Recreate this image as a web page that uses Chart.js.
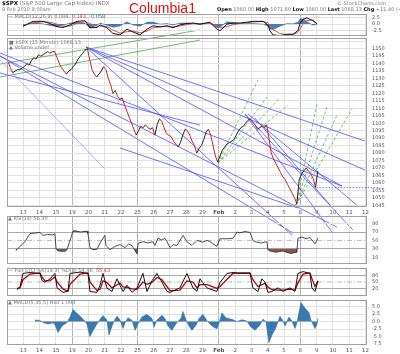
<!DOCTYPE html>
<html>
<head>
<meta charset="utf-8">
<script src="https://cdn.jsdelivr.net/npm/chart.js@4.4.0/dist/chart.umd.min.js"></script>
<style>
  body { margin: 0; background: #fff; width: 400px; height: 354px; overflow: hidden; position: relative; font-family: "DejaVu Sans", sans-serif; }
  canvas { position: absolute; left: 0; }
  #main { z-index: 1; }
  .pan { z-index: 2; }
  .t { position: absolute; font-size: 5px; color: #777; white-space: nowrap; z-index: 5; line-height: 1; }
  .t b { color: #111; }
</style>
</head>
<body>
<canvas id="main"></canvas>
<canvas id="macdTop" class="pan"></canvas>
<canvas id="rsi" class="pan"></canvas>
<canvas id="sto" class="pan"></canvas>
<canvas id="hist" class="pan"></canvas>

<div class="t" style="left:2px;top:1px;font-size:5.5px"><b>$SPX</b> (S&amp;P 500 Large Cap Index) INDX</div>
<div class="t" style="left:2px;top:7px">9 Feb 2010 9:00am</div>
<div class="t" style="left:8px;top:13.5px">&#8212; MACD(12,26,9) 0.084, <span style="color:#d33">0.143</span>, <span style="color:#36a">-0.058</span></div>
<div class="t" style="left:129px;top:1px;font-size:14px;color:#e01010;font-family:'Liberation Sans',sans-serif">Columbia1</div>
<div class="t" style="left:337px;top:1px">&#169; StockCharts.com</div>
<div class="t" style="left:217px;top:7px"><b>Open</b> 1060.00 <b>High</b> 1071.80 <b>Low</b> 1060.00 <b>Last</b> 1068.13 <b>Chg</b> +11.40 (+1.08%) &#9650;</div>
<div class="t" style="left:9px;top:40px">&#9632; $SPX (15 Minute) 1068.13</div>
<div class="t" style="left:9px;top:45px">&#9650; Volume undef</div>
<div class="t" style="left:8px;top:216px">&#9650; RSI(14) 56.30</div>
<div class="t" style="left:8px;top:268px">&#8212; Full STO %K(14,3) %D(3) 54.46, <span style="color:#d33">55.43</span></div>
<div class="t" style="left:8px;top:300px">&#9650; MACD(5,35,5) Hist 1.093</div>

<script>
// trading days: index 0 = Jan 12 ... 22 = Feb 12
const dayLabels = ['', '13', '14', '15', '19', '20', '21', '22', '25', '26', '27', '28', '29',
                   'Feb', '2', '3', '4', '5', '8', '9', '10', '11', '12'];
const weekStarts = [4, 8, 13, 18];
const barsPerDay = 7;

// price, one value per bar (7 bars per day, last day has one bar)
const price = [
  1141, 1137, 1134, 1135, 1136, 1136, 1137,
  1138, 1140, 1139, 1142, 1144, 1143, 1146,
  1145, 1146, 1147, 1148, 1147, 1148, 1148,
  1144, 1140, 1137, 1135, 1133, 1135, 1136,
  1138, 1140, 1143, 1145, 1147, 1149, 1150,
  1143, 1136, 1133, 1131, 1133, 1135, 1138,
  1136, 1130, 1126, 1120, 1122, 1118, 1116,
  1117, 1112, 1108, 1104, 1100, 1096, 1092,
  1095, 1098, 1097, 1099, 1097, 1096, 1097,
  1092, 1099, 1103, 1101, 1097, 1093, 1092,
  1091, 1088, 1086, 1084, 1087, 1092, 1096,
  1095, 1092, 1088, 1085, 1080, 1083, 1085,
  1089, 1094, 1096, 1092, 1085, 1078, 1074,
  1078, 1082, 1084, 1086, 1087, 1088, 1089,
  1092, 1095, 1097, 1098, 1100, 1102, 1103,
  1101, 1099, 1096, 1097, 1098, 1097, 1099,
  1090, 1080, 1076, 1073, 1070, 1067, 1064,
  1062, 1059, 1056, 1053, 1050, 1046, 1062,
  1066, 1068, 1070, 1068, 1066, 1063, 1057,
  1068
];
const prevClose = 1056.74;

// MACD(12,26,9), top panel
const macdT = [0.98, 1.60, 2.21, 2.64, 3.07, 3.44, 3.87, 4.29, 4.79, 5.09, 5.52, 5.71, 6.13, 6.50, 6.93, 7.36,
  7.73, 8.16, 8.59, 8.96, 9.39, 9.82, 10.18, 10.61, 11.04, 11.41, 11.84, 12.45, 12.88, 13.07, 13.50, 13.87,
  14.29, 14.72, 15.09, 15.71, 16.01, 16.13, 16.32, 16.75, 17.18, 17.55, 17.85, 17.98, 18.16, 18.40, 18.77, 19.02];
const macdV = [-0.84, 1.03, 1.03, 0.22, -0.94, -1.25, -0.31, 1.03, 1.25, -1.34, -1.25, -0.31, -1.34, -3.44, -3.97, -1.88,
  -2.9, -3.97, -1.88, -0.63, -1.03, -0.63, -1.34, -0.31, 0.22, 0.41, 0, 0.72, -1.88, -2.41, 0, 0.41,
  0.41, 0.72, 1.03, 1.03, -0.31, -2.41, -3.97, -4.28, -3.75, -3.75, -2.41, 0.22, 1.78, 2.28, 1.25, 0.08];
const signalV = [-0.5, 0.4, 0.9, 0.7, 0.0, -0.8, -0.7, 0.2, 0.9, 0.2, -0.8, -0.7, -0.9, -2.2, -3.3, -2.8,
  -2.6, -3.2, -2.6, -1.4, -1.0, -0.8, -1.0, -0.7, -0.2, 0.2, 0.1, 0.4, -0.6, -1.3, -0.9, -0.2,
  0.2, 0.5, 0.8, 1.0, 0.5, -0.6, -2.0, -3.5, -3.9, -3.8, -3.1, -1.8, 0.0, 1.3, 1.6, 0.14];
const macdHistV = [-0.3, 0.6, 0.1, -0.5, -0.9, -0.4, 0.4, 0.8, 0.3, -1.5, -0.4, 0.4, -0.4, -1.2, -0.7, 0.9,
  -0.3, -0.8, 0.7, 0.8, 0.0, 0.2, -0.3, 0.4, 0.4, 0.2, -0.1, 0.3, -1.3, -1.1, 0.9, 0.6,
  0.2, 0.2, 0.2, 0.0, -0.8, -1.8, -2.0, -0.8, 0.2, 0.1, 0.7, 2.0, 1.8, 1.0, -0.4, -0.06];
const macdTicks = [-2.5, 0, 2.5];

// RSI(14)
const rsiT = [0.55, 0.80, 1.10, 1.41, 1.60, 2.02, 2.21, 2.50, 2.82, 2.94, 3.01, 3.13, 3.56, 3.68, 3.87, 4.05,
  4.17, 4.50, 4.91, 4.97, 5.09, 5.28, 5.52, 5.71, 6.01, 6.07, 6.32, 6.63, 6.93, 7.24, 7.45, 7.67,
  7.98, 8.04, 8.34, 8.65, 8.96, 9.08, 9.26, 9.50, 9.69, 9.82, 10.0, 10.2, 10.43, 10.80, 11.04, 11.35,
  11.66, 12.0, 12.27, 12.45, 12.88, 13.07, 13.50, 13.87, 14.11, 14.29, 14.6, 14.91, 15.09, 15.21,
  15.6, 15.95, 16.01, 16.13, 16.5, 16.93, 17.06, 17.4, 17.79, 17.85, 18.10, 18.35, 18.59, 18.90, 19.08];
const rsiV = [26, 36, 47, 66, 67, 69, 62, 64, 63, 66, 30, 25, 24, 28, 50, 72,
  73, 70, 72, 66, 33, 28, 29, 44, 62, 38, 28, 36, 40, 33, 41, 38,
  18, 43, 47, 44, 47, 38, 55, 51, 55, 47, 33, 40, 38, 62, 47, 38,
  50, 46, 50, 47, 36, 54, 54, 55, 70, 68, 71, 69, 50, 47,
  44, 47, 28, 25, 22, 25, 23, 19, 22, 55, 58, 54, 57, 42, 56];
const rsiTicks = [10, 30, 50, 70, 90];

// Full stochastics
const stoT = [0.61, 0.80, 0.98, 1.41, 2.02, 2.15, 2.33, 2.64, 2.94, 3.07, 3.44, 3.74, 3.87, 4.48, 4.97, 5.09,
  5.52, 5.71, 5.89, 6.13, 6.44, 6.75, 6.93, 7.12, 7.36, 7.67, 7.98, 8.34, 8.59, 8.90, 9.20, 9.51,
  9.82, 10.0, 10.61, 11.04, 11.41, 11.66, 11.84, 12.27, 12.88, 13.07, 13.50, 13.87, 14.48, 14.91, 15.09, 15.40,
  15.64, 15.83, 16.01, 16.26, 16.63, 16.93, 17.36, 17.67, 17.85, 18.16, 18.59, 18.71, 18.90, 19.08];
const stoK = [16, 29, 88, 92, 88, 56, 49, 64, 88, 24, 4, 9, 88, 94, 88, 8,
  4, 36, 88, 24, 8, 64, 36, 8, 36, 4, 24, 88, 8, 56, 88, 49,
  8, 4, 24, 88, 24, 9, 64, 24, 8, 48, 88, 92, 88, 90, 24, 8,
  64, 49, 4, 8, 24, 8, 24, 8, 88, 96, 88, 24, 8, 54];
const stoD = [22, 24, 60, 85, 90, 72, 55, 56, 72, 50, 18, 10, 40, 85, 90, 50,
  12, 18, 55, 48, 24, 38, 45, 28, 26, 20, 18, 50, 40, 48, 70, 60,
  30, 12, 14, 55, 50, 24, 38, 38, 22, 30, 62, 88, 90, 89, 60, 30,
  38, 45, 28, 16, 14, 14, 18, 14, 45, 85, 90, 65, 30, 55];
const stoTicks = [20, 50, 80];

// MACD(5,35,5) histogram, bottom panel
const histT = [1.72, 2.02, 2.21, 2.52, 2.82, 2.94, 3.13, 3.37, 3.68, 3.87, 4.05, 4.29, 4.60, 4.79, 4.91, 5.09,
  5.28, 5.52, 5.71, 5.89, 6.13, 6.26, 6.44, 6.63, 6.75, 6.93, 7.12, 7.24, 7.42, 7.67, 7.86, 8.04,
  8.28, 8.59, 8.90, 9.02, 9.20, 9.51, 9.69, 9.88, 10.12, 10.43, 10.67, 10.80, 10.98, 11.17, 11.35, 11.60,
  11.78, 12.02, 12.27, 12.58, 12.88, 13.01, 13.19, 13.44, 13.87, 14.11, 14.42, 14.72, 14.91, 15.21, 15.52, 15.71,
  15.89, 16.07, 16.26, 16.50, 16.75, 16.93, 17.06, 17.30, 17.48, 17.67, 17.79, 17.91, 18.04, 18.28, 18.53, 18.65,
  18.90, 19.02, 19.08];
const histV = [0.5, 0.4, -0.3, -0.8, -0.4, -1.0, -3.6, -1.5, -0.3, 1.5, 4.0, 2.8, 1.2, 0.1, -1.0, -5.0,
  -3.0, -0.8, 0.8, 2.0, 0.5, -4.5, -1.5, 0.8, 1.8, 0.6, -2.3, -0.5, 1.3, 0.4, -2.9, -0.8,
  1.5, 2.4, 1.0, -1.9, 0.5, 2.1, 1.0, -1.5, -2.9, -0.2, 1.0, 3.4, 0.5, -1.5, -2.9, -1.2,
  1.0, 2.4, 0.3, -1.5, -2.4, -0.5, 2.9, 1.2, 0.6, 0.0, 0.6, 0.2, -1.5, -2.9, -1.2, 0.8,
  0.0, -7.0, -4.5, -2.0, 1.8, 0.3, -1.5, 1.5, 0.2, -2.3, -0.5, 3.0, 6.3, 4.5, 3.0, 0.5,
  -2.3, -1.0, 1.09];
const histTicks = [-7.5, -5, -2.5, 0, 2.5, 5];

// drawn trendlines: [day1, price1, day2, price2]
const blueLines = [
  [4.85, 1151.1, 21.96, 1088.1],
  [4.85, 1151.1, 21.96, 1068.6],
  [4.85, 1151.1, 20.55, 1057.9],
  [4.85, 1151.1, 17.48, 1025.0],
  [-0.43, 1147.1, 20.55, 1057.9],
  [-0.43, 1145.1, 20.25, 1030.3],
  [-0.43, 1145.1, 17.55, 1026.3],
  [-0.43, 1133.7, 11.84, 1098.8],
  [6.93, 1083.4, 17.85, 1043.1],
  [14.60, 1106.2, 19.94, 1027.0],
  [14.60, 1106.2, 21.23, 1028.3],
  [14.79, 1106.2, 21.47, 1045.1],
  [15.21, 1103.5, 19.82, 1045.1]
];
const blueFaint = [
  [-0.43, 1142.4, 5.95, 1070.0]
];
const greenLines = [
  [-0.43, 1139.7, 11.84, 1162.6],
  [-0.43, 1131.0, 11.84, 1155.8]
];
const greenFans = [
  [12.94, 1073.3, 15.40, 1129.0],
  [12.94, 1073.3, 15.95, 1117.6],
  [12.94, 1073.3, 16.75, 1116.9],
  [12.94, 1073.3, 17.24, 1112.2],
  [17.73, 1045.1, 19.02, 1112.9],
  [17.73, 1045.1, 19.63, 1110.9],
  [17.73, 1045.1, 20.25, 1105.5],
  [17.73, 1045.1, 21.17, 1109.5]
];

Chart.defaults.font.family = 'DejaVu Sans';
Chart.defaults.animation = false;
Chart.defaults.events = [];
Chart.defaults.plugins.legend.display = false;
Chart.defaults.plugins.tooltip.enabled = false;
Chart.defaults.elements.point.radius = 0;
Chart.defaults.elements.line.borderWidth = 1;
Chart.defaults.elements.line.tension = 0;

const X_MAX = 22.09;
const pts = (t, v) => t.map((x, i) => ({ x: x, y: v[i] }));
const seg = (l) => [{ x: l[0], y: l[1] }, { x: l[2], y: l[3] }];
const hline = (y, x0, x1) => [{ x: x0, y: y }, { x: x1, y: y }];
const fixTicks = (list) => (s) => { s.ticks = list.map((v) => ({ value: v })); };

const boxPlugin = {
  id: 'box',
  afterDraw(chart) {
    const a = chart.chartArea, c = chart.ctx;
    c.save();
    c.strokeStyle = '#a0a0a0';
    c.lineWidth = 1;
    c.strokeRect(Math.round(a.left) + 0.5, Math.round(a.top) + 0.5, Math.round(a.width) - 1, Math.round(a.height) - 1);
    c.restore();
  }
};

function xAxis(show) {
  return {
    type: 'linear', min: 0, max: X_MAX,
    ticks: {
      display: show, stepSize: 1, autoSkip: false, maxRotation: 0, includeBounds: false, padding: 2,
      color: '#555',
      font: (c) => ({ size: 5.5, weight: c.tick && c.tick.value === 13 ? 'bold' : 'normal' }),
      callback: (v) => dayLabels[v] || ''
    },
    grid: {
      drawTicks: false,
      color: (c) => weekStarts.includes(c.tick.value) ? '#b4b4b4' : '#e2e2e2'
    },
    border: { display: false },
    afterFit: (s) => { s.height = show ? 10 : 0; }
  };
}

function yAxis(min, max, extra) {
  const ax = {
    position: 'right', min: min, max: max,
    ticks: { padding: 5, color: '#555', font: { size: 5 }, includeBounds: false, autoSkip: false },
    grid: { drawTicks: false, color: '#e2e2e2' },
    border: { display: false },
    afterFit: (s) => { s.width = 33; }
  };
  if (extra) {
    Object.assign(ax.ticks, extra.ticks || {});
    Object.assign(ax.grid, extra.grid || {});
    if (extra.afterBuildTicks) ax.afterBuildTicks = extra.afterBuildTicks;
  }
  return ax;
}

function make(id, top, height, plotTop, plotBottom, xShow, datasets, y) {
  const cv = document.getElementById(id);
  cv.style.top = top + 'px';
  cv.width = 400;
  cv.height = height;
  const xh = xShow ? 10 : 0;
  return new Chart(cv, {
    type: 'line',
    data: { datasets: datasets },
    options: {
      responsive: false,
      layout: { padding: { left: 7, right: 0, top: plotTop - top, bottom: top + height - plotBottom - xh } },
      scales: { x: xAxis(xShow), y: y }
    },
    plugins: [boxPlugin]
  });
}

// ---- main price panel ----
const priceData = price.map((v, i) => ({
  x: Math.floor(i / barsPerDay) + ((i % barsPerDay) + 0.5) / barsPerDay,
  y: v
}));
const mainSets = [{
  data: priceData,
  borderWidth: 1,
  segment: { borderColor: (c) => c.p1.parsed.y < c.p0.parsed.y ? '#cc2020' : '#222' }
}];
blueLines.forEach((l) => mainSets.push({ data: seg(l), borderColor: 'rgba(80,80,250,0.8)', borderWidth: 1, clip: false }));
blueFaint.forEach((l) => mainSets.push({ data: seg(l), borderColor: 'rgba(110,110,250,0.55)', borderWidth: 1, clip: false }));
greenLines.forEach((l) => mainSets.push({ data: seg(l), borderColor: 'rgba(90,170,90,0.85)', borderWidth: 1, clip: false }));
greenFans.forEach((l) => mainSets.push({ data: seg(l), borderColor: 'rgba(60,150,60,0.8)', borderWidth: 0.8, borderDash: [3, 2], clip: false }));
mainSets.push({ data: hline(prevClose, 19, 22.9), borderColor: 'rgba(80,80,250,0.8)', borderWidth: 1, borderDash: [1.5, 1.5], clip: false });

make('main', 0, 244, 38, 207, true, mainSets, yAxis(1043.8, 1157.2, {
  ticks: { stepSize: 5, callback: (v) => (v >= 1045 && v <= 1150) ? v : '' }
}));

// ---- MACD(12,26,9) ----
make('macdTop', 6, 38, 12, 38, false, [
  { data: pts(macdT, macdV), borderColor: '#111', borderWidth: 1 },
  { data: pts(macdT, signalV), borderColor: '#e05050', borderWidth: 1 },
  { data: pts(macdT, macdHistV), borderColor: 'rgba(40,105,165,0.9)', borderWidth: 0.5,
    backgroundColor: 'rgba(40,105,165,0.85)', fill: 'origin' }
], yAxis(-4.4, 3.75, { afterBuildTicks: fixTicks(macdTicks), ticks: { callback: (v) => v.toFixed(1) } }));

// ---- RSI ----
make('rsi', 208, 64, 215, 265, false, [
  { data: pts(rsiT, rsiV), borderColor: '#222', borderWidth: 0.8,
    fill: { target: { value: 30 }, above: 'rgba(0,0,0,0)', below: '#8c5454' } },
  { data: pts(rsiT, rsiV), borderWidth: 0,
    fill: { target: { value: 70 }, above: '#4f8a4f', below: 'rgba(0,0,0,0)' } },
  { data: hline(50, 0, X_MAX), borderColor: '#aaa', borderWidth: 0.8, borderDash: [5, 2, 1, 2] }
], yAxis(-6, 108, {
  afterBuildTicks: fixTicks(rsiTicks),
  grid: { color: (c) => (c.tick.value === 30 || c.tick.value === 70) ? '#a8a8a8' : (c.tick.value === 50 ? 'rgba(0,0,0,0)' : '#e2e2e2') }
}));

// ---- Full STO ----
make('sto', 260, 44, 267, 297, false, [
  { data: pts(stoT, stoK), borderColor: '#111', borderWidth: 1 },
  { data: pts(stoT, stoD), borderColor: '#b00000', borderWidth: 1.3 },
  { data: hline(50, 0, X_MAX), borderColor: '#aaa', borderWidth: 0.8, borderDash: [5, 2, 1, 2] }
], yAxis(-12, 112, {
  afterBuildTicks: fixTicks(stoTicks),
  grid: { color: (c) => c.tick.value === 50 ? 'rgba(0,0,0,0)' : '#a8a8a8' }
}));

// ---- MACD(5,35,5) histogram ----
make('hist', 292, 62, 299, 345, true, [
  { data: pts(histT, histV), borderColor: '#2f6ea8', borderWidth: 0.6,
    backgroundColor: '#3a78b0', fill: 'origin' }
], yAxis(-7.8, 7.2, { afterBuildTicks: fixTicks(histTicks), ticks: { callback: (v) => v.toFixed(1) } }));
</script>
</body>
</html>
